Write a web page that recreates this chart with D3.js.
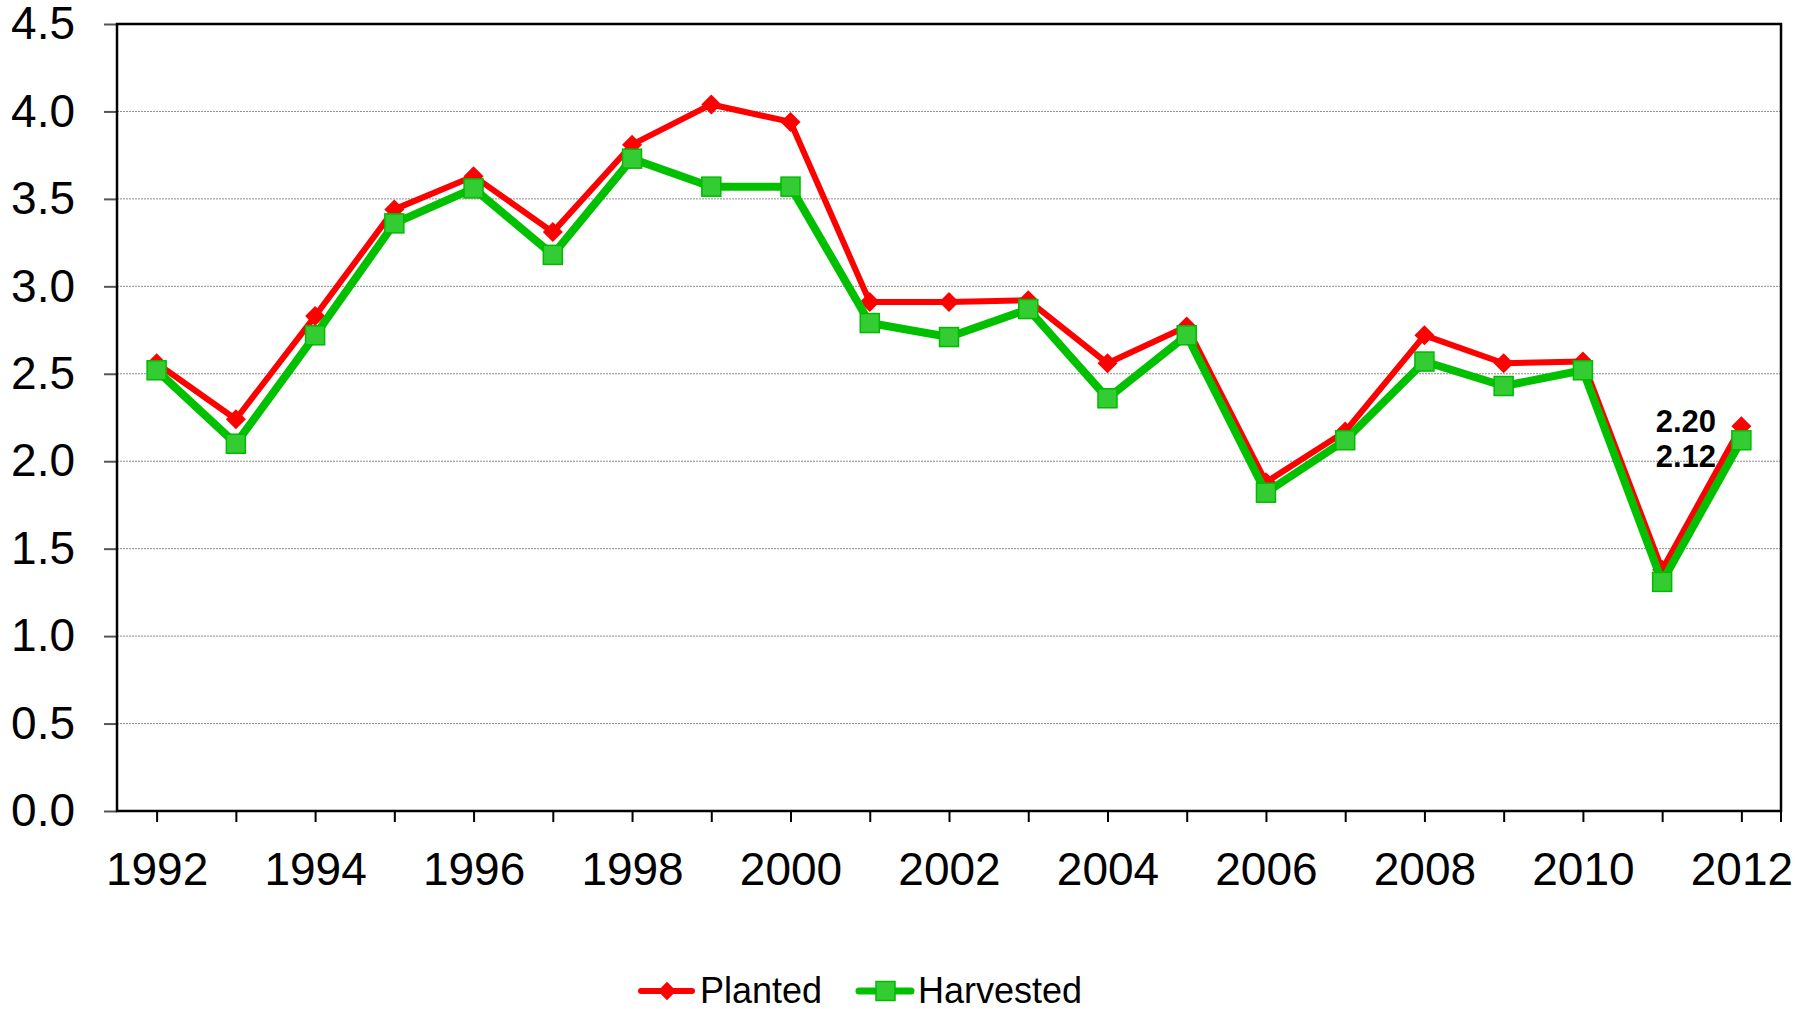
<!DOCTYPE html>
<html lang="en">
<head>
<meta charset="UTF-8">
<title>Planted vs Harvested</title>
<script src="https://cdn.jsdelivr.net/npm/d3@7"></script>
<style>
  body { margin: 0; background: #fff; }
  svg { display: block; font-family: "Liberation Sans", Arial, sans-serif; }
</style>
</head>
<body>
<svg id="chart" width="1806" height="1009"></svg>
<script>
// data
const years = [1992, 1993, 1994, 1995, 1996, 1997, 1998, 1999, 2000, 2001, 2002,
               2003, 2004, 2005, 2006, 2007, 2008, 2009, 2010, 2011, 2012];
const planted = [2.56, 2.24, 2.83, 3.44, 3.63, 3.31, 3.81, 4.04, 3.94, 2.91, 2.91,
                 2.92, 2.56, 2.77, 1.88, 2.17, 2.72, 2.56, 2.57, 1.38, 2.20];
const harvested = [2.52, 2.10, 2.72, 3.36, 3.56, 3.18, 3.73, 3.57, 3.57, 2.79, 2.71,
                   2.87, 2.36, 2.72, 1.82, 2.12, 2.57, 2.43, 2.52, 1.31, 2.12];
const yTicks = [0, 0.5, 1, 1.5, 2, 2.5, 3, 3.5, 4, 4.5];
const xLabels = [1992, 1994, 1996, 1998, 2000, 2002, 2004, 2006, 2008, 2010, 2012];

const plotL = 117, plotR = 1781, plotT = 24, plotB = 811;
const svg = d3.select("#chart");

const x = d3.scalePoint().domain(years).range([plotL, plotR]).padding(0.5);
const y = d3.scaleLinear().domain([0, 4.5]).range([plotB, plotT]);

// gridlines
svg.append("g").selectAll("line")
  .data(yTicks.filter(d => d > 0 && d < 4.5))
  .join("line")
  .attr("x1", plotL).attr("x2", plotR)
  .attr("y1", d => y(d)).attr("y2", d => y(d))
  .attr("stroke", "#8c8c8c").attr("stroke-width", 1)
  .attr("stroke-dasharray", "2,1");

// y axis
const yAxis = svg.append("g")
  .attr("transform", `translate(${plotL},0)`)
  .call(d3.axisLeft(y).tickValues(yTicks).tickSize(13).tickPadding(29)
    .tickFormat(d3.format(".1f")));
yAxis.select(".domain").remove();
yAxis.selectAll(".tick line").attr("stroke", "#555").attr("stroke-width", 2);
yAxis.selectAll(".tick text")
  .attr("font-size", 46).attr("fill", "#000")
  .attr("font-family", "Liberation Sans, Arial, sans-serif");

// x axis
const xAxis = svg.append("g")
  .attr("transform", `translate(0,${plotB})`)
  .call(d3.axisBottom(x).tickSize(11)
    .tickFormat(d => xLabels.includes(d) ? d : ""));
xAxis.select(".domain").remove();
xAxis.selectAll(".tick line").attr("stroke", "#000").attr("stroke-width", 2);
xAxis.selectAll(".tick text")
  .attr("y", 74).attr("dy", null)
  .attr("font-size", 46).attr("fill", "#000")
  .attr("font-family", "Liberation Sans, Arial, sans-serif");
// edge tick at right corner
svg.append("line")
  .attr("x1", plotR).attr("x2", plotR).attr("y1", plotB).attr("y2", plotB + 11)
  .attr("stroke", "#000").attr("stroke-width", 2);

// frame
svg.append("rect")
  .attr("x", plotL).attr("y", plotT)
  .attr("width", plotR - plotL).attr("height", plotB - plotT)
  .attr("fill", "none").attr("stroke", "#000").attr("stroke-width", 2.5);

const line = d3.line().x((d, i) => x(years[i])).y(d => y(d));

// planted series
svg.append("path")
  .datum(planted)
  .attr("d", line)
  .attr("fill", "none").attr("stroke", "#ff0000").attr("stroke-width", 6)
  .attr("stroke-linejoin", "round");
const diamond = d3.symbol().type(d3.symbolSquare).size(200);
svg.append("g").selectAll("path")
  .data(planted)
  .join("path")
  .attr("d", diamond)
  .attr("transform", (d, i) => `translate(${x(years[i])},${y(d)}) rotate(45)`)
  .attr("fill", "#ff0000");

// harvested series
svg.append("path")
  .datum(harvested)
  .attr("d", line)
  .attr("fill", "none").attr("stroke", "#00c000").attr("stroke-width", 8)
  .attr("stroke-linejoin", "round");
svg.append("g").selectAll("rect")
  .data(harvested)
  .join("rect")
  .attr("x", (d, i) => x(years[i]) - 9.5)
  .attr("y", d => y(d) - 9.5)
  .attr("width", 19).attr("height", 19)
  .attr("fill", "#33cc33").attr("stroke", "#00bb00").attr("stroke-width", 1.5);

// end value labels
const last = years.length - 1;
svg.append("text")
  .attr("x", 1716).attr("y", 432)
  .attr("text-anchor", "end").attr("font-size", 31).attr("font-weight", "bold")
  .text(planted[last].toFixed(2));
svg.append("text")
  .attr("x", 1716).attr("y", 467)
  .attr("text-anchor", "end").attr("font-size", 31).attr("font-weight", "bold")
  .text(harvested[last].toFixed(2));

// legend
const ly = 991;
const lg = svg.append("g");
lg.append("line").attr("x1", 641).attr("x2", 692).attr("y1", ly).attr("y2", ly)
  .attr("stroke", "#ff0000").attr("stroke-width", 6).attr("stroke-linecap", "round");
lg.append("path").attr("d", d3.symbol().type(d3.symbolSquare).size(170))
  .attr("transform", `translate(667,${ly}) rotate(45)`).attr("fill", "#ff0000");
lg.append("text").attr("x", 700).attr("y", 1003).attr("font-size", 36).text("Planted");

lg.append("line").attr("x1", 859).attr("x2", 911).attr("y1", ly).attr("y2", ly)
  .attr("stroke", "#00c000").attr("stroke-width", 7).attr("stroke-linecap", "round");
lg.append("rect").attr("x", 876).attr("y", ly - 9.5).attr("width", 19).attr("height", 19)
  .attr("fill", "#33cc33").attr("stroke", "#00bb00").attr("stroke-width", 1.5);
lg.append("text").attr("x", 918).attr("y", 1003).attr("font-size", 36).text("Harvested");
</script>
</body>
</html>
